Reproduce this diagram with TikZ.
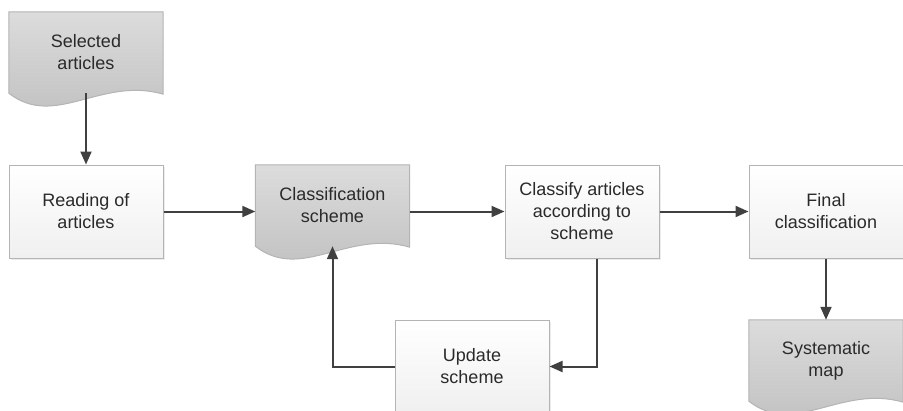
\documentclass[tikz,border=0pt]{standalone}
\usepackage{fontspec}
\setmainfont{Liberation Sans}
\usetikzlibrary{arrows.meta,backgrounds,shadows}

\definecolor{inkgray}{HTML}{404040}
\definecolor{textgray}{HTML}{2A2A2A}
\definecolor{framegray}{HTML}{B4B4B4}
\definecolor{doctop}{HTML}{DCDCDC}
\definecolor{docbottom}{HTML}{BEBEBE}

% wavy bottom of a document node, drawn behind its text
\newcommand{\docoutline}[1]{%
  \begin{pgfonlayer}{background}
    \shadedraw[top color=doctop, bottom color=docbottom, draw=framegray, line width=1pt]
      (#1.north west) -- (#1.north east) -- ([yshift=-1pt]#1.south east)
      .. controls +(-62,-18) and +(46,36) .. (#1.south west) -- cycle;
  \end{pgfonlayer}}

\begin{document}
\begin{tikzpicture}[
    x=1pt, y=-1pt,
    box/.style={rectangle, draw=framegray, line width=1pt,
        top color=white, bottom color=gray!12,
        minimum width=154pt, minimum height=93pt, align=center,
        text=textgray, font=\fontsize{18}{22}\selectfont,
        drop shadow={shadow xshift=1.5pt, shadow yshift=-1.5pt, opacity=0.15}},
    doc/.style={rectangle, minimum width=154pt, minimum height=81pt,
        align=center, text=textgray, font=\fontsize{18}{22}\selectfont},
    flow/.style={line width=2pt, draw=inkgray, -{Triangle[length=13pt,width=11pt]}}
]
    \useasboundingbox (0,0) rectangle (903,410);

    \node[doc] (sel) at (86,52.5) {Selected\\articles};
    \node[box] (read) at (86,211.5) {Reading of\\articles};
    \node[doc] (scheme) at (332.5,205.5) {Classification\\scheme};
    \node[box] (classify) at (582,211.5) {Classify articles\\according to\\scheme};
    \node[box] (final) at (826,211.5) {Final\\classification};
    \node[doc] (map) at (826,360.5) {Systematic\\map};
    \node[box] (update) at (472,366.5) {Update\\scheme};

    \docoutline{sel}
    \docoutline{scheme}
    \docoutline{map}

    \draw[flow] (sel) -- (read);
    \draw[flow] (read) -- (read -| scheme.west);
    \draw[flow] (scheme.east |- classify) -- (classify);
    \draw[flow] (classify) -- (final);
    \draw[flow] (final) -- (map);
    \draw[flow] ([xshift=15pt]classify.south) |- (update);
    \draw[flow] (update) -| (scheme.south);
\end{tikzpicture}
\end{document}
